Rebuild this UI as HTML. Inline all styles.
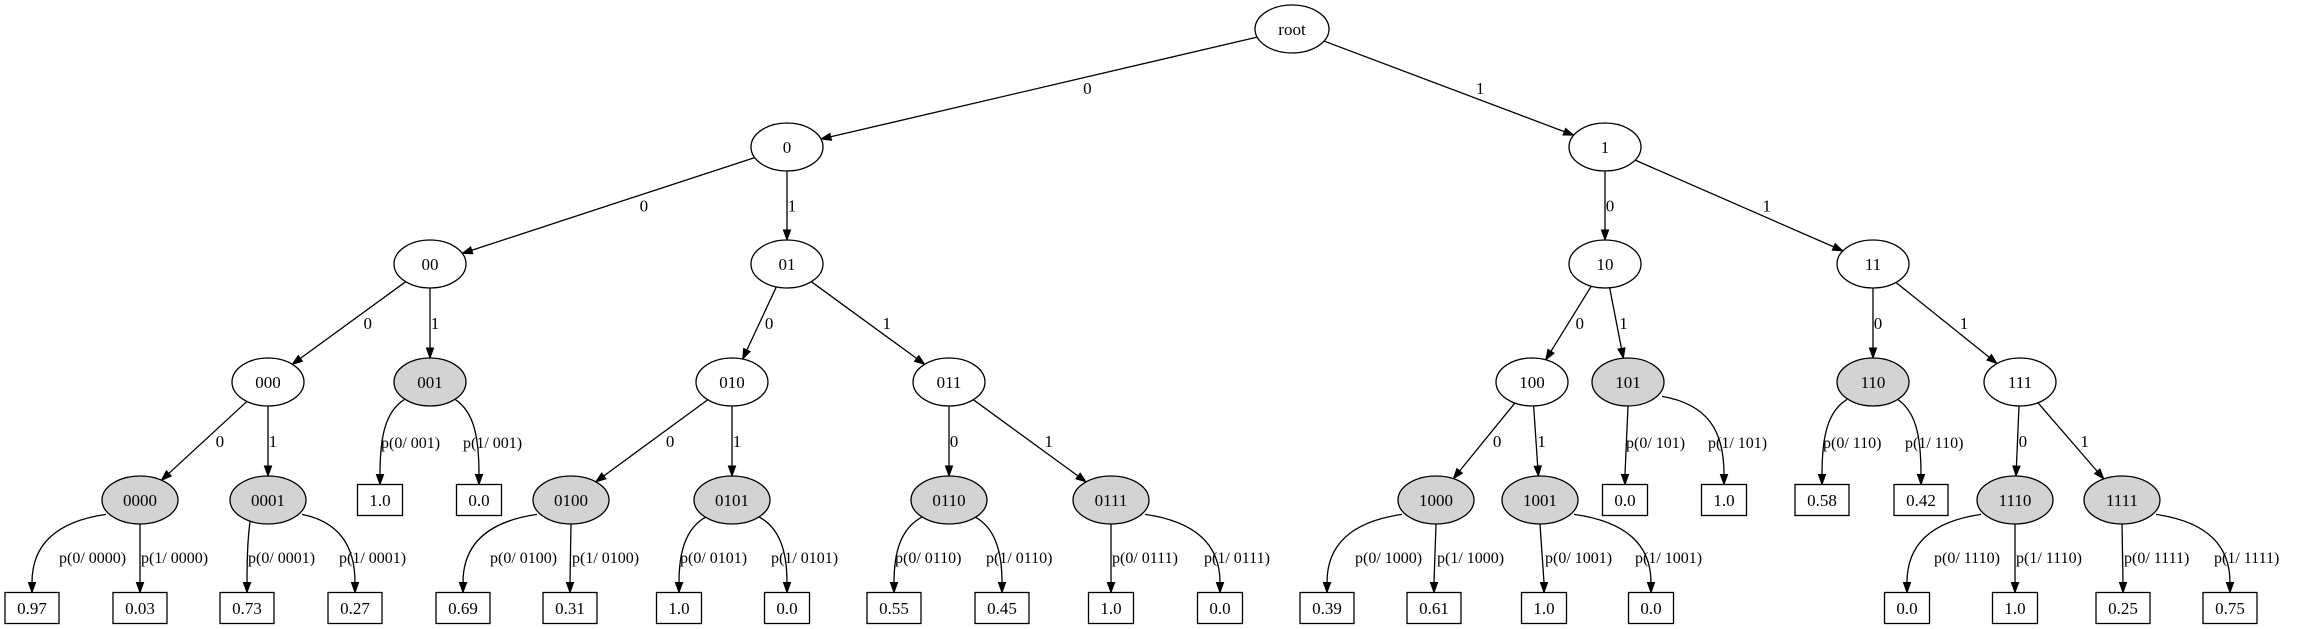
<!DOCTYPE html>
<html><head><meta charset="utf-8">
<style>
html,body{margin:0;padding:0;background:#fff;}
svg{display:block;}
text{font-family:"Liberation Serif",serif;font-size:17px;fill:#000;}
text.p{font-size:16px;}
</style></head>
<body>
<svg id="g" width="2299" height="629" xmlns="http://www.w3.org/2000/svg"></svg>
<script>
var S=document.getElementById('g'),NS='http://www.w3.org/2000/svg';
function el(t,a,txt){var e=document.createElementNS(NS,t);for(var k in a)e.setAttribute(k,a[k]);if(txt!=null)e.textContent=txt;S.appendChild(e);return e;}
var Y=[29,147,264,382,500],RY=24;
var N={root:[1292,0],'0':[787,1],'1':[1605,1],'00':[430,2],'01':[787,2],'10':[1605,2],'11':[1873,2],
'000':[268,3],'001':[430,3],'010':[732,3],'011':[949,3],'100':[1532,3],'101':[1628,3],'110':[1873,3],'111':[2020,3],
'0000':[140,4],'0001':[268,4],'0100':[571,4],'0101':[732,4],'0110':[949,4],'0111':[1111,4],
'1000':[1436,4],'1001':[1540,4],'1110':[2015,4],'1111':[2122,4]};
var grey={'001':1,'101':1,'110':1,'0000':1,'0001':1,'0100':1,'0101':1,'0110':1,'0111':1,'1000':1,'1001':1,'1110':1,'1111':1};
var E=[['root','0','0'],['root','1','1'],['0','00','0'],['0','01','1'],['1','10','0'],['1','11','1'],
['00','000','0'],['00','001','1'],['01','010','0'],['01','011','1'],['10','100','0'],['10','101','1'],['11','110','0'],['11','111','1'],
['000','0000','0'],['000','0001','1'],['010','0100','0'],['010','0101','1'],['011','0110','0'],['011','0111','1'],
['100','1000','0'],['100','1001','1'],['111','1110','0'],['111','1111','1']];
var L=[['0000',32,'0.97',140,'0.03'],['0001',247,'0.73',355,'0.27'],['001',380,'1.0',479,'0.0'],
['0100',463,'0.69',570,'0.31'],['0101',679,'1.0',787,'0.0'],['0110',894,'0.55',1002,'0.45'],['0111',1111,'1.0',1220,'0.0'],
['1000',1327,'0.39',1434,'0.61'],['1001',1544,'1.0',1651,'0.0'],['101',1625,'0.0',1724,'1.0'],['110',1822,'0.58',1921,'0.42'],
['1110',1907,'0.0',2015,'1.0'],['1111',2123,'0.25',2230,'0.75']];
function rx(n){return n=='root'?37:(n.length>=4?38:36);}
function arrow(tx,ty,ux,uy){var l=10,w=3.6,bx=tx-ux*l,by=ty-uy*l;
 el('polygon',{points:tx+','+ty+' '+(bx-uy*w)+','+(by+ux*w)+' '+(bx+uy*w)+','+(by-ux*w),fill:'#000',stroke:'#000','stroke-width':1});}
function bnd(n,dx,dy){var a=rx(n),b=RY,t=1/Math.sqrt(dx*dx/(a*a)+dy*dy/(b*b));return [dx*t,dy*t];}
E.forEach(function(e){var p=N[e[0]],c=N[e[1]],px=p[0],py=Y[p[1]],cx=c[0],cy=Y[c[1]];
 var dx=cx-px,dy=cy-py,len=Math.hypot(dx,dy),ux=dx/len,uy=dy/len;
 var s=bnd(e[0],dx,dy),t=bnd(e[1],-dx,-dy);
 var sx=px+s[0],sy=py+s[1],tx=cx+t[0],ty=cy+t[1];
 el('line',{x1:sx,y1:sy,x2:tx-ux*10,y2:ty-uy*10,stroke:'#000','stroke-width':1.3});
 arrow(tx,ty,ux,uy);
 var off=5+0.085*Math.abs(dx);
 el('text',{x:(px+cx)/2+off,y:(py+cy)/2+6,'text-anchor':'middle'},e[2]);
});
function leafEdge(n,lx,LY){var p=N[n],px=p[0],py=Y[p[1]],dx=lx-px;
 var top=LY-15.5;
 if(Math.abs(dx)<12){el('line',{x1:px,y1:py+RY,x2:lx,y2:top-10,stroke:'#000','stroke-width':1.3});arrow(lx,top,0,1);}
 else{var sg=dx<0?-1:1;var fr=Math.min(1,Math.abs(dx)/80);
  var sx=px+sg*(12+22*fr),sy=py+RY*(0.95-0.35*fr);
  var d='M'+sx+','+sy+' C'+(sx+(lx-sx)*0.75)+','+(sy+8+10*(1-fr))+' '+lx+','+(sy+35)+' '+lx+','+(top-10);
  el('path',{d:d,fill:'none',stroke:'#000','stroke-width':1.3});arrow(lx,top,0,1);}
}
L.forEach(function(l){var n=l[0],p=N[n],px=p[0];
 var LY=p[1]==3?500:608, ty=p[1]==3?448:563;
 leafEdge(n,l[1],LY);leafEdge(n,l[3],LY);
 var ls=Math.max(l[1],px-82),rs=l[3]-Math.min(17,l[3]-px);
 el('text',{x:ls+1,y:ty,'class':'p'},'p(0/ '+n+')');
 el('text',{x:rs+1,y:ty,'class':'p'},'p(1/ '+n+')');
 [[l[1],l[2]],[l[3],l[4]]].forEach(function(b){var w=b[1].length>3?54:45;
  el('rect',{x:b[0]-w/2,y:LY-15.5,width:w,height:31,fill:'#fff',stroke:'#000','stroke-width':1.3});
  el('text',{x:b[0],y:LY+6,'text-anchor':'middle'},b[1]);});
});
for(var k in N){var p=N[k];
 el('ellipse',{cx:p[0],cy:Y[p[1]],rx:rx(k),ry:RY,fill:grey[k]?'#d3d3d3':'#fff',stroke:'#000','stroke-width':1.3});
 el('text',{x:p[0],y:Y[p[1]]+6,'text-anchor':'middle'},k);}
</script>
</body></html>
